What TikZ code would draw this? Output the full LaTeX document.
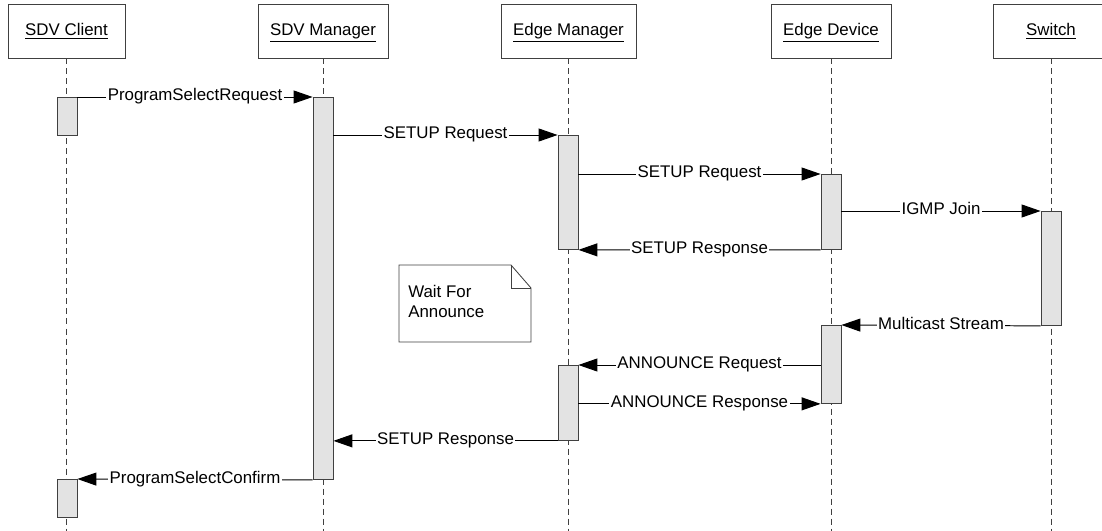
\documentclass[tikz,border=0pt]{standalone}
\usepackage{fontspec}
\setmainfont{Liberation Sans}
\usetikzlibrary{arrows.meta}
\tikzset{
  actor/.style={draw=black!75, line width=0.6pt, minimum width=#1, minimum height=1.35cm,
    inner sep=0pt, text height=0.72em, text depth=0.05em, font=\fontsize{12}{14.4}\selectfont},
  lifeline/.style={draw=black!75, line width=0.6pt, dash pattern=on 0.15cm off 0.1cm},
  actbox/.style={draw=black!75, fill=black!11, line width=0.6pt, minimum width=0.5cm,
    minimum height=#1, inner sep=0pt, anchor=north},
  msg/.style={line width=0.7pt, -{Triangle[length=0.475cm,width=0.325cm]}},
  msglabel/.style={fill=white, inner sep=1pt, text height=0.75em, text depth=0.22em,
    font=\fontsize{12}{14.4}\selectfont},
}
\begin{document}
\begin{tikzpicture}[x=0.025cm,y=-0.025cm]
\useasboundingbox (0,0) rectangle (1102,531);
\coordinate (bottom) at (0,531);
% participants
\node[actor=2.925cm] (client) at (66.5,31) {\underline{SDV Client}};
\node[actor=3.25cm] (sdvmgr) at (323,31) {\underline{SDV Manager}};
\node[actor=3.375cm] (edgemgr) at (568.5,31) {\underline{Edge Manager}};
\node[actor=3.0cm] (edgedev) at (831,31) {\underline{Edge Device}};
\node[actor=2.9cm] (switch) at (1051,31) {\underline{Switch}};
% lifelines
\foreach \p in {client,sdvmgr,edgemgr,edgedev,switch}
  \draw[lifeline] (\p.south) -- (\p.south |- bottom);
% activations
\node[actbox=0.95cm] (c1) at (67,97) {};
\node[actbox=9.55cm] (m1) at (323,97) {};
\node[actbox=2.85cm] (em1) at (568,135) {};
\node[actbox=1.875cm] (ed1) at (831,174) {};
\node[actbox=2.85cm] (sw1) at (1051,211) {};
\node[actbox=1.95cm] (ed2) at (831,325) {};
\node[actbox=1.875cm] (em2) at (568,365) {};
\node[actbox=0.95cm] (c2) at (67,479) {};
% messages
\draw[msg] (c1.north east) -- node[msglabel] {ProgramSelectRequest} (m1.north west);
\draw[msg] (m1.east |- em1.north) -- node[msglabel] {SETUP Request} (em1.north west);
\draw[msg] (em1.east |- ed1.north) -- node[msglabel] {SETUP Request} (ed1.north west);
\draw[msg] (ed1.east |- sw1.north) -- node[msglabel] {IGMP Join} (sw1.north west);
\draw[msg] (ed1.south west) -- node[msglabel] {SETUP Response} (em1.south east);
\draw[msg] (sw1.south west) -- node[msglabel] {Multicast Stream} (ed2.north east);
\draw[msg] (ed2.west |- em2.north) -- node[msglabel] {ANNOUNCE Request} (em2.north east);
\draw[msg] (em2.east |- ed2.south) -- node[msglabel] {ANNOUNCE Response} (ed2.south west);
\draw[msg] (em2.south west) -- node[msglabel] {SETUP Response} (m1.east |- em2.south);
\draw[msg] (m1.south west) -- node[msglabel] {ProgramSelectConfirm} (c2.north east);
% note
\draw[draw=black!75, fill=white, line width=0.6pt] (399,265) -- (511,265) -- (531,288)
  -- (531,342) -- (399,342) -- cycle;
\draw[draw=black!75, line width=0.6pt] (511,265) -- (511,288) -- (531,288);
\node[anchor=north west, align=left, inner sep=0pt, font=\fontsize{12}{14.4}\selectfont]
  (waitnote) at (408,285) {Wait For\\Announce};
\end{tikzpicture}
\end{document}
